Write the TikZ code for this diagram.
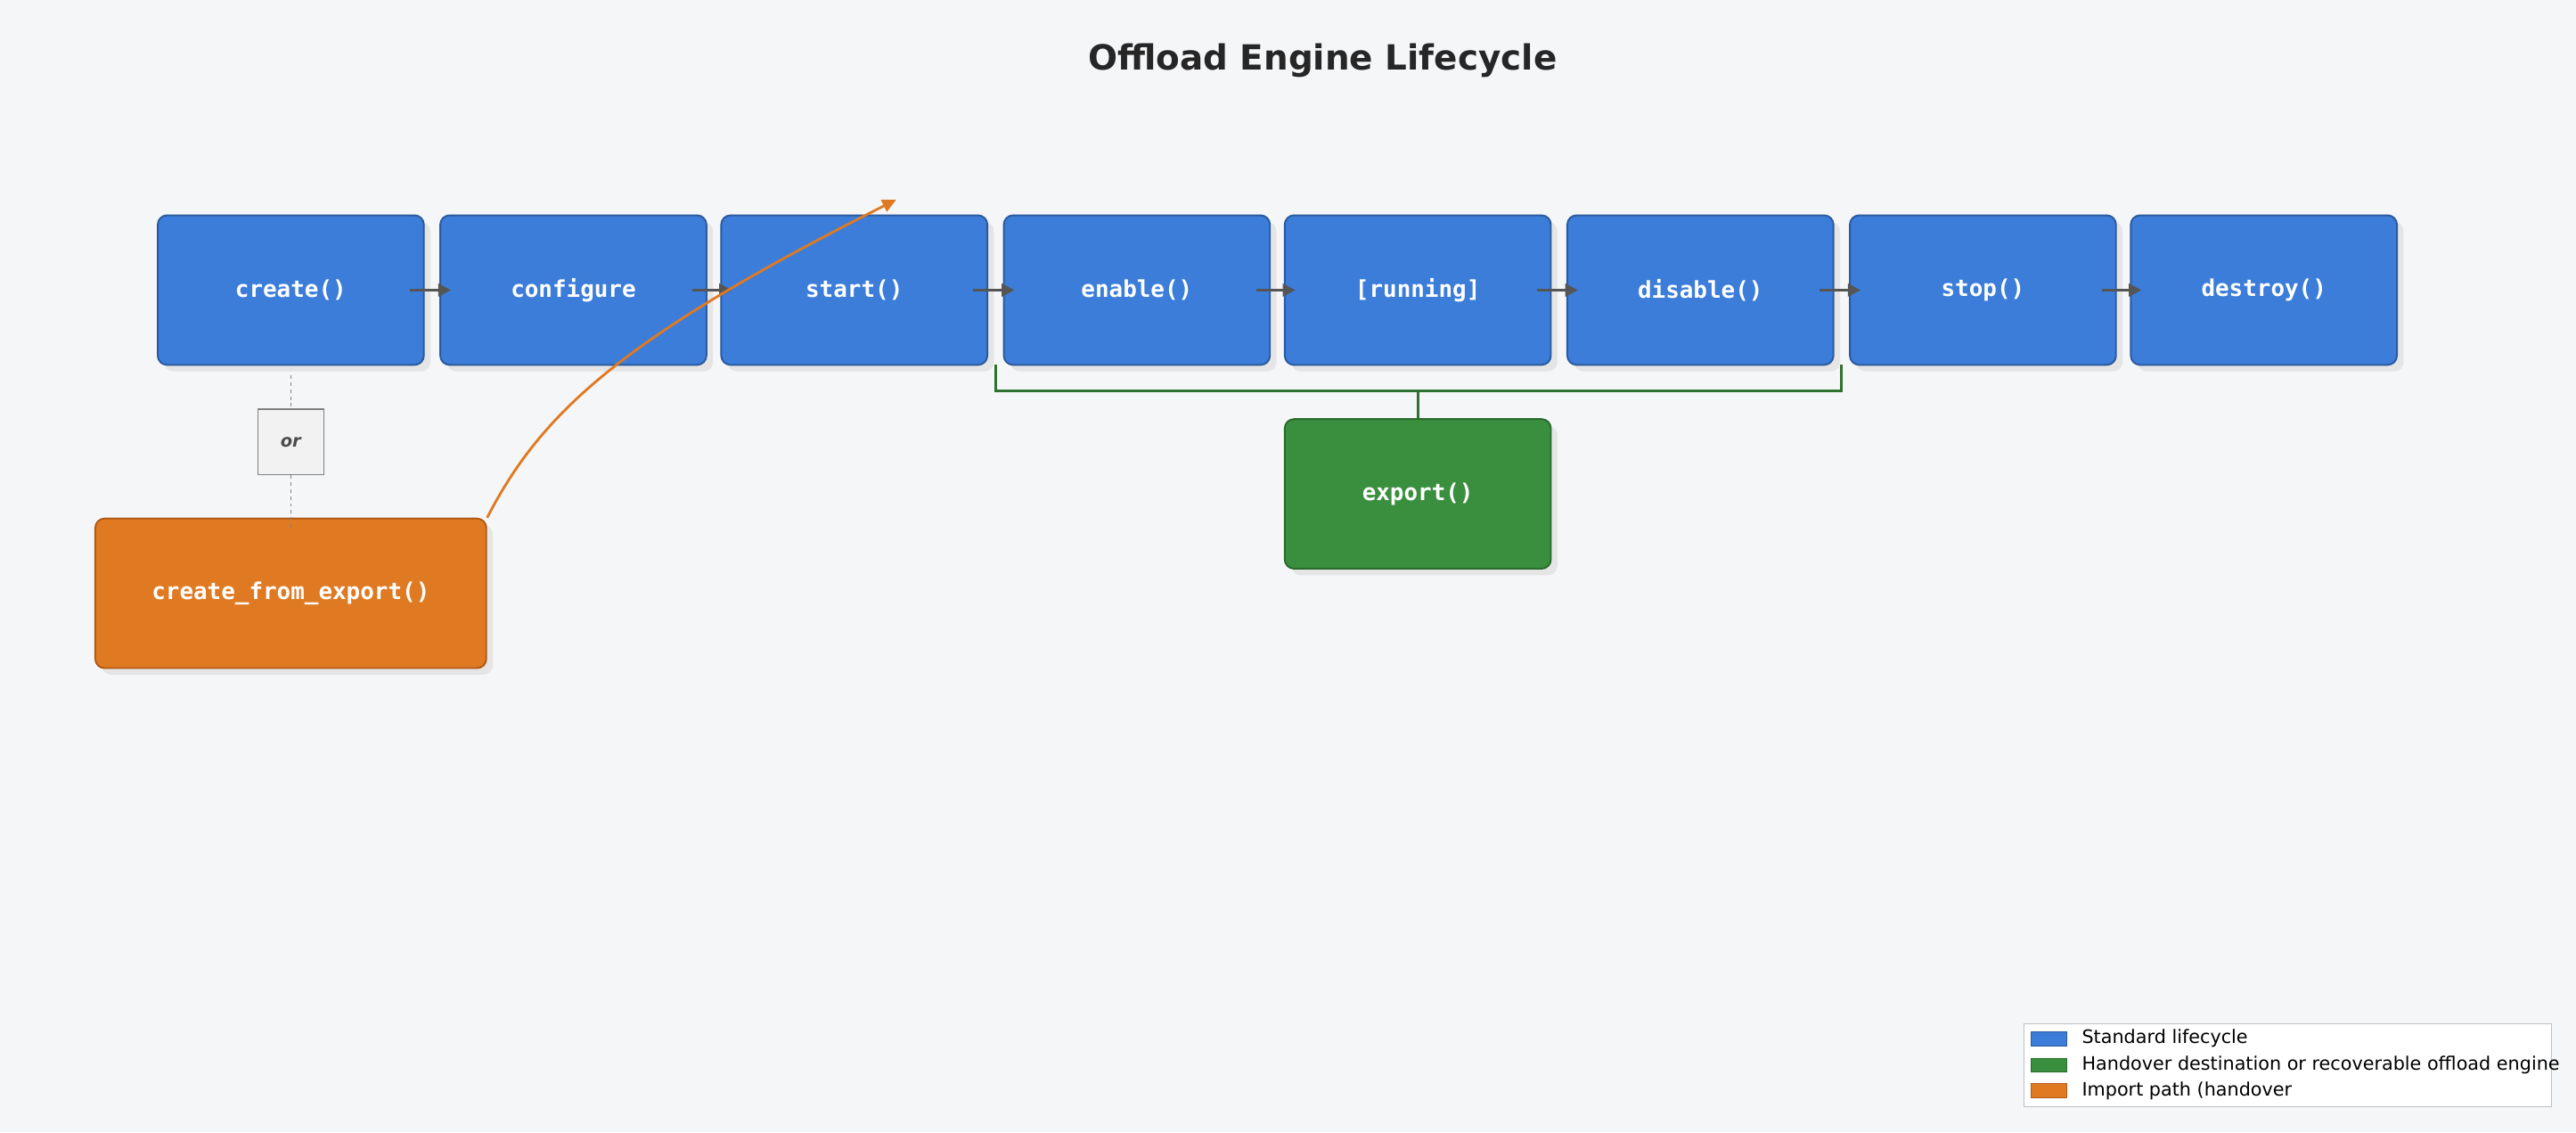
\documentclass[tikz,border=0pt]{standalone}
\usepackage{fontspec}
\setmainfont{DejaVu Sans}
\newfontfamily\monof{DejaVu Sans Mono}
\usetikzlibrary{arrows.meta}
\definecolor{bg}{HTML}{F5F6F8}
\definecolor{bluef}{HTML}{3C7DD9}
\definecolor{blued}{HTML}{2A5A9E}
\definecolor{greenf}{HTML}{3A8F3E}
\definecolor{greend}{HTML}{2A6B2D}
\definecolor{orf}{HTML}{E07A22}
\definecolor{ord}{HTML}{B05A14}
\definecolor{arr}{HTML}{555555}
\begin{document}
\begin{tikzpicture}[x=0.05cm,y=-0.05cm,
 box/.style={draw=#1d,fill=#1f,line width=1.5pt,rounded corners=8pt,minimum width=8.1cm,minimum height=4.55cm,text=white,font=\monof\bfseries\fontsize{20}{24}\selectfont,inner sep=0pt},
 shad/.style={fill=black!10,rounded corners=8pt,minimum width=8.1cm,minimum height=4.55cm,inner sep=0pt},
 flow/.style={draw=arr,line width=2.2pt,-{Triangle[length=11pt,width=11pt]}},
 lg/.style={draw=#1d,fill=#1f,minimum width=1.1cm,minimum height=0.42cm,inner sep=0pt}]
\fill[bg] (0,0) rectangle (1568,689);
\useasboundingbox (0,0) rectangle (1568,689);
\node (title) at (805,37) {\bfseries\fontsize{30}{36}\selectfont\color{black!85}Offload Engine Lifecycle};
\foreach \x in {177,349,520,692,863,1035,1207,1378}{\node[shad] at (\x+4,180.5) {};}
\node[shad] at (867,304.5) {};
\node[shad,minimum width=11.9cm] at (181,365) {};
\node[box=blue] (b1) at (177,176.5) {create()};
\node[box=blue] (b2) at (349,176.5) {configure};
\node[box=blue] (b3) at (520,176.5) {start()};
\node[box=blue] (b4) at (692,176.5) {enable()};
\node[box=blue] (b5) at (863,176.5) {[running]};
\node[box=blue] (b6) at (1035,176.5) {disable()};
\node[box=blue] (b7) at (1207,176.5) {stop()};
\node[box=blue] (b8) at (1378,176.5) {destroy()};
\node[box=green] (ex) at (863,300.5) {export()};
\node[box=or,minimum width=11.9cm] (cfe) at (177,361) {create\_from\_export()};
\node[draw=black!50,fill=black!5,line width=1pt,minimum width=2cm,minimum height=2cm,inner sep=0pt,font=\bfseries\itshape\fontsize{15}{18}\selectfont,text=black!70] (or) at (177,269) {or};
\foreach \a/\b in {b1/b2,b2/b3,b3/b4,b4/b5,b5/b6,b6/b7,b7/b8}{
 \draw[flow] ([xshift=-0.45cm]\a.east) -- ([xshift=0.35cm]\b.west);}
\draw[black!50,line width=1.2pt,dashed] ([yshift=-0.3cm]b1.south) -- (or.north);
\draw[black!50,line width=1.2pt,dashed] (or.south) -- ([yshift=-0.3cm]cfe.north);
\coordinate (g1) at (606,222); \coordinate (g2) at (1121,222);
\coordinate (gm) at (863,238);
\draw[greenf!80!black,line width=2.2pt] (g1) -- (606,238) -- (1121,238) -- (g2);
\draw[greenf!80!black,line width=2.2pt] (gm) -- (ex.north);
\draw[orf,line width=2.2pt,-{Triangle[length=12pt,width=11pt]}] (cfe.north east) .. controls (330,250) and (380,205) .. ([xshift=-2.8cm,yshift=0.45cm]b3.north east);
\node[draw=black!25,fill=white,minimum width=16.05cm,minimum height=2.5cm,inner sep=0pt] (leg) at (1392.5,648) {};
\node[lg=blue] (l1) at (1247,632) {};
\node[lg=green] (l2) at (1247,648) {};
\node[lg=or] (l3) at (1247,663.5) {};
\foreach \n/\t in {l1/Standard lifecycle,l2/Handover destination or recoverable offload engine,l3/Import path (handover / recovery)}{
 \node[anchor=west,font=\fontsize{16}{18}\selectfont,inner sep=0pt] at ([xshift=0.45cm]\n.east) {\t};}
\end{tikzpicture}
\end{document}
